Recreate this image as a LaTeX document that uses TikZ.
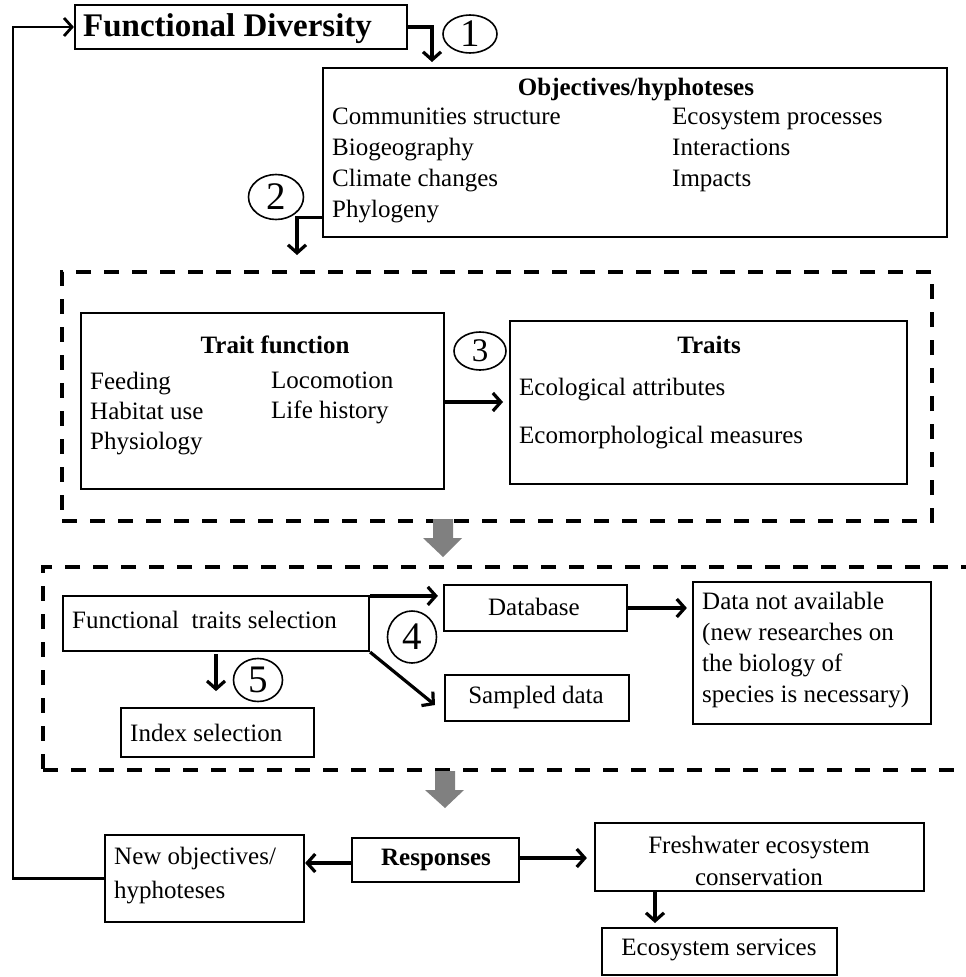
\documentclass[tikz,border=0pt]{standalone}
\usepackage{fontspec}
\setmainfont{Liberation Serif}
\usetikzlibrary{arrows.meta,shapes.geometric}
\newcommand\mybox[6][]{\node[bx,#1,minimum width={(#4)-(#2)},minimum height={(#6)-(#3)}] (#5) at ({((#2)+(#4))/2},{((#3)+(#6))/2}) {};}
\begin{document}
\begin{tikzpicture}[x=1pt,y=-1pt,
 bx/.style={draw, line width=2.2pt, inner sep=0pt},
 dbx/.style={draw, line width=4pt, dash pattern=on 15pt off 13pt, inner sep=0pt},
 tx/.style={inner sep=0pt, font=\fontsize{25}{31}\selectfont, align=left},
 btx/.style={inner sep=0pt, font=\fontsize{25}{30}\selectfont\bfseries},
 circ/.style={draw, ellipse, line width=1.6pt, inner sep=0pt, font=\fontsize{39}{39}\selectfont},
 arr/.style={line width=3.2pt, -{Straight Barb[length=8pt,width=18pt]}},
 blk/.style={fill=gray, draw=none}]
\useasboundingbox (0,0) rectangle (966,977);
% frames
\mybox[dbx]{62}{272}{932}{dash1}{521}
\mybox[dbx]{43}{567}{1010}{dash2}{770}
% boxes
\mybox{75}{5}{407}{fd}{49}
\mybox{323}{68}{947}{obj}{237}
\mybox{81}{313}{444}{trait}{489}
\mybox{510}{321}{907}{traits}{484}
\mybox{63}{596}{369}{fts}{651}
\mybox{444}{585}{627}{db}{631}
\mybox{693}{582}{931}{dna}{724}
\mybox{445}{675}{629}{samp}{721}
\mybox{121}{708}{314}{idx}{757}
\mybox{105}{835}{304}{newobj}{922}
\mybox{352}{838}{519}{resp}{882}
\mybox{595}{823}{924}{fresh}{891}
\mybox{602}{928}{837}{eco}{975}
% texts
\node[btx, anchor=west, font=\fontsize{33}{36}\selectfont\bfseries] (fdt) at (83,29) {Functional Diversity};
\node[btx] (objt) at (636,90) {Objectives/hyphoteses};
\node[tx, anchor=north west] (objl) at (332,108) {Communities structure\\Biogeography\\Climate changes\\Phylogeny};
\node[tx, anchor=north west] (objr) at (672,108) {Ecosystem processes\\Interactions\\Impacts};
\node[btx] (traitt) at (275,345) {Trait function};
\node[tx, anchor=north west, font=\fontsize{25}{30}\selectfont] (traitl) at (90,372) {Feeding\\Habitat use\\Physiology};
\node[tx, anchor=north west, font=\fontsize{25}{30}\selectfont] (traitr) at (271,372) {Locomotion\\Life history};
\node[btx] (traitst) at (709,345) {Traits};
\node[tx, anchor=west] (eca) at (519,390) {Ecological attributes};
\node[tx, anchor=west] (ecm) at (519,438) {Ecomorphological measures};
\node[tx, anchor=west] (ftst) at (72,620) {Functional\ \ traits selection};
\node[tx] (dbt) at (534,607) {Database};
\node[tx, anchor=west] (dnat) at (702,650) {Data not available\\(new researches on\\the biology of\\species is necessary)};
\node[tx] (sampt) at (536,697) {Sampled data};
\node[tx, anchor=west] (idxt) at (130,733) {Index selection};
\node[tx, anchor=west, font=\fontsize{25}{34}\selectfont] (newobjt) at (114,876) {New objectives/\\hyphoteses};
\node[btx] (respt) at (436,860) {Responses};
\node[tx, align=center, font=\fontsize{25}{32}\selectfont] (fresht) at (759,861) {Freshwater ecosystem\\conservation};
\node[tx] (ecot) at (719,950) {Ecosystem services};
% numbered circles
\node[circ, minimum width=54, minimum height=38] (c1) at (470,34) {1};
\node[circ, minimum width=55, minimum height=45] (c2) at (276,197) {2};
\node[circ, minimum width=52, minimum height=38, font=\fontsize{33}{33}\selectfont] (c3) at (480,351) {3};
\node[circ, minimum width=49, minimum height=52] (c4) at (412,637) {4};
\node[circ, minimum width=49, minimum height=43] (c5) at (258,680) {5};
% connectors
\coordinate (fb) at (13,0);
\draw[arr, line width=2.8pt] (newobj.west) -- (newobj.west -| fb) -- (fd.west -| fb) -- (fd.west);
\coordinate (a1) at (432,62);
\draw[arr] (fd.east) -| (a1);
\coordinate (a2) at (297,255);
\draw[arr] ([yshift=21pt]obj.south west) -| (a2);
\coordinate (a3) at (503,402);
\draw[arr] (trait.east |- a3) -- (a3);
\draw[arr, shorten >=5pt] ([yshift=-1pt]fts.north east) -- ([yshift=-1pt]fts.north east -| db.west);
\draw[arr, shorten >=5pt] (db.east) -- (db.east -| dna.west);
\coordinate (a4) at (435,705);
\draw[arr] (fts.south east) -- (a4);
\draw[arr] ([yshift=-2pt]fts.south) -- ++(0,37);
\draw[arr] ([yshift=-3pt]resp.west) -- ([yshift=-3pt]resp.west -| newobj.east);
\draw[arr, shorten >=7pt] ([yshift=2pt]resp.east) -- ([yshift=2pt]resp.east -| fresh.west);
\coordinate (a5) at (655,923);
\draw[arr] (fresh.south -| a5) -- (a5);
% gray block arrows
\fill[blk] (433,519) -- (453,519) -- (453,538) -- (462,538) -- (443,557) -- (423,538) -- (433,538) -- cycle;
\fill[blk] (435,771) -- (455,771) -- (455,790) -- (464,790) -- (445,808) -- (425,790) -- (435,790) -- cycle;
\end{tikzpicture}
\end{document}
